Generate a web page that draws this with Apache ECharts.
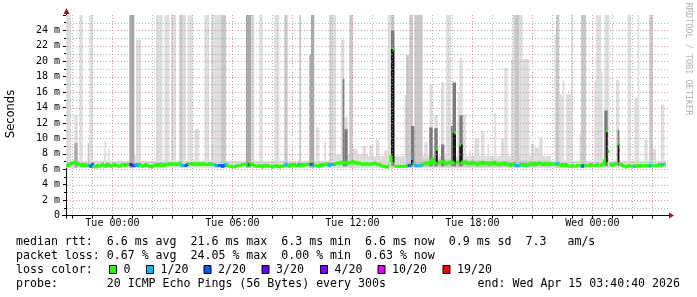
<!DOCTYPE html>
<html><head><meta charset="utf-8">
<script src="https://cdn.jsdelivr.net/npm/echarts@6/dist/echarts.min.js"></script>
<style>html,body{margin:0;padding:0;background:#fff}#c{width:697px;height:297px}</style>
</head><body><div id="c"></div>
<script>
// ---- time frame: Mon 21:40:40 .. Wed 03:40:40, hours relative to Tue 00:00, 300 s steps
const START_H = -(2 + 19/60 + 20/3600);
const STEP_H = 5/60;
const END_H = START_H + 360 * STEP_H;

const xLabelHours = [0, 6, 12, 18, 24];
const xLabelTexts = ['Tue 00:00', 'Tue 06:00', 'Tue 12:00', 'Tue 18:00', 'Wed 00:00'];
const gridHours = [-2,-1,0,1,2,3,4,5,6,7,8,9,10,11,12,13,14,15,16,17,18,19,20,21,22,23,24,25,26,27];
const yGridValues = [1,2,3,4,5,6,7,8,9,10,11,12,13,14,15,16,17,18,19,20,21,22,23,24,25];

// ---- median rtt (ms) per 5-minute step
const median = [
 6.5,6.6,6.7,6.8,6.9,6.8,6.7,6.6,6.5,6.6,6.5,6.6,6.5,6.5,6.4,6.6,6.4,6.3,6.5,6.4,
 6.5,6.6,6.5,6.4,6.6,6.5,6.4,6.5,6.6,6.5,6.5,6.4,6.5,6.6,6.6,6.5,6.6,6.6,6.6,6.5,
 6.5,6.6,6.5,6.6,6.5,6.4,6.5,6.6,6.5,6.4,6.3,6.4,6.5,6.6,6.5,6.6,6.5,6.6,6.5,6.6,
 6.6,6.7,6.6,6.7,6.6,6.7,6.6,6.7,6.6,6.5,6.5,6.5,6.6,6.7,6.7,6.6,6.7,6.6,6.7,6.6,
 6.7,6.6,6.7,6.6,6.6,6.7,6.6,6.6,6.6,6.5,6.5,6.5,6.5,6.4,6.5,6.6,6.5,6.4,6.4,6.3,
 6.3,6.4,6.5,6.5,6.5,6.6,6.6,6.6,6.5,6.6,6.7,6.6,6.5,6.4,6.4,6.5,6.4,6.3,6.5,6.4,
 6.5,6.4,6.4,6.3,6.4,6.5,6.4,6.3,6.4,6.4,6.5,6.6,6.5,6.4,6.6,6.5,6.6,6.5,6.5,6.6,
 6.5,6.6,6.5,6.6,6.6,6.7,6.6,6.6,6.5,6.5,6.4,6.5,6.6,6.5,6.6,6.7,6.6,6.5,6.6,6.6,
 6.6,6.7,6.8,6.7,6.9,6.8,6.9,6.8,6.7,6.8,6.9,7.0,6.8,6.9,6.7,6.8,6.7,6.6,6.7,6.6,
 6.7,6.6,6.6,6.7,6.8,6.7,6.6,6.6,6.5,6.4,6.4,6.3,6.3,6.5,7.6,6.9,21.6,6.4,6.4,6.4,
 6.4,6.4,6.4,6.4,6.5,6.5,6.5,7.4,6.6,6.5,6.5,6.5,6.5,6.6,6.7,6.8,6.7,6.8,6.7,7.3,
 6.8,6.9,8.6,6.8,6.9,7.0,6.8,6.7,6.8,6.9,6.8,6.9,6.8,10.7,6.9,6.8,9.2,6.9,6.8,6.9,
 6.7,6.8,6.7,6.9,6.8,6.7,6.6,6.8,6.7,6.9,6.7,6.8,6.7,6.6,6.8,6.7,6.9,6.7,6.6,6.7,
 6.6,6.7,6.8,6.6,6.7,6.6,6.5,6.6,6.7,6.5,6.5,6.5,6.6,6.6,6.5,6.6,6.5,6.6,6.7,6.6,
 6.7,6.6,6.7,6.8,6.7,6.6,6.7,6.6,6.7,6.6,6.7,6.6,6.7,6.6,6.7,6.6,6.5,6.6,6.5,6.6,
 6.5,6.4,6.4,6.5,6.4,6.4,6.5,6.5,6.5,6.4,6.5,6.5,6.5,6.5,6.6,6.5,6.5,6.5,6.6,6.5,
 6.5,6.6,6.6,7.3,11.0,8.3,6.6,6.5,6.6,6.7,6.7,9.3,6.6,6.5,6.4,6.3,6.4,6.5,6.4,6.4,
 6.4,6.5,6.4,6.5,6.4,6.5,6.5,6.5,6.5,6.4,6.5,6.5,6.5,6.5,6.5,6.6,6.5,6.6,6.6,6.6
];

// ---- lost pings (of 20): [firstStep, lastStep, lost]
const lossSpans = [
 [13,13,1],[14,15,2],[38,39,3],[40,40,2],[41,43,1],[69,70,1],[71,72,2],[89,90,1],[91,94,2],[95,95,1],
 [109,109,2],[131,132,1],[139,139,1],[146,146,2],[147,147,5],[148,148,1],[157,160,1],
 [205,206,2],[207,207,1],[209,212,1],[269,271,1],[294,294,1],[309,310,2],[340,340,1],[350,350,1],[357,358,1]
];
const lossBins = [0, 1, 2, 3, 4, 10, 19];
const lossLabels = ['0', '1/20', '2/20', '3/20', '4/20', '10/20', '19/20'];
const lossColors = ['#26ff00', '#00b8ff', '#0059ff', '#5e00ff', '#7e00ff', '#dd00ff', '#ff0000'];

// ---- smoke (ping spread): [firstStep, lastStep, low ms, high ms]
const smokeLight = [
 [0,359,6.2,7.1],[0,2,6.2,26],[5,6,6.2,13.0],[8,9,6.2,26],[14,15,6.2,26],[23,23,6.2,9.7],[25,25,6.2,8.7],
 [41,42,6.2,7.8],[42,44,6.2,22.8],[54,57,6.2,26],[59,61,6.2,26],[63,65,6.2,26],[70,71,6.2,26],[73,75,6.2,26],
 [77,79,6.2,11.2],[83,85,6.2,26],[87,88,6.2,26],[89,92,6.2,26],[93,95,6.2,8.9],[111,112,6.2,26],[116,117,6.2,26],
 [125,127,6.2,26],[150,151,6.2,11.4],[155,155,6.2,9.7],[159,161,6.2,26],[160,180,6.2,7.9],[165,166,6.2,22.8],
 [167,168,6.2,12.8],[172,174,6.2,8.7],[178,179,6.2,9.0],[180,195,6.2,7.7],[182,183,6.2,9.1],[186,187,6.2,9.9],
 [191,192,6.2,8.5],[193,194,6.2,26],
 [197,290,6.2,7.7],[203,203,6.2,15.6],[215,216,6.2,9.5],[218,219,6.2,17.0],[221,222,6.2,13.0],[225,226,6.2,17.3],
 [228,230,6.2,26],[232,233,6.2,17.4],[235,235,6.2,16.0],[236,237,6.2,20.5],[238,239,6.2,13.1],[242,242,6.2,8.5],
 [245,247,6.2,10.0],[249,250,6.2,11.0],[253,253,6.2,9.3],[257,257,6.2,13.3],[261,262,6.2,10.0],[263,264,6.2,19.2],
 [267,268,6.2,20.3],[268,268,6.2,26],[272,273,6.2,26],[274,277,6.2,20.3],[279,280,6.2,9.3],[281,283,6.2,8.8],
 [284,285,6.2,10.0],[293,293,6.2,23.5],[296,297,6.2,15.8],[298,298,6.2,17.5],[300,302,6.2,15.8],[303,303,6.2,26],
 [308,308,6.2,10.6],[317,317,6.2,17.4],[318,320,6.2,26],[321,321,6.2,18.7],[323,325,6.2,26],[330,331,6.2,17.6],
 [337,338,6.2,26],[341,342,6.2,15.3],[343,343,6.2,26],[347,348,6.2,9.8],[352,353,6.2,8.7],[357,358,6.2,14.4]
];
const smokeMedium = [
 [13,13,6.2,9.4],[68,69,6.2,26],[93,95,6.2,26],[131,132,6.2,26],[140,140,6.2,26],[158,158,6.2,26],
 [170,171,6.2,26],[195,196,6.2,26],[204,205,6.2,20.8],[206,207,6.2,26],[209,213,6.2,26],[269,271,6.2,26],
 [294,295,6.2,26],[309,311,6.2,26],[350,351,6.2,26],[214,240,6.3,7.3],[240,290,6.3,7.1]
];
const smokeDark = [
 [5,6,6.2,9.4],[38,40,6.2,26],[108,110,6.2,26],[146,146,6.2,20.8],[147,148,6.2,26]
];
const smokeDense = [
 [166,166,6.4,17.7],[167,168,6.4,11.2],[195,196,6.5,24.0],[207,208,6.4,11.6],[218,219,6.4,11.4],
 [221,222,6.4,11.3],[225,226,6.4,9.2],[231,231,6.4,11.6],[232,233,6.4,17.2],[236,237,6.4,13.0],
 [323,324,6.4,13.6],[331,331,6.4,11.1]
];
const smokeCore = [
 [195,196,6.9,21.6],[222,222,6.9,8.6],[232,233,6.9,10.7],[236,237,6.9,9.2],[324,324,6.9,11.0],[331,331,6.9,9.3],[207,207,6.6,7.4]
];

const statLines = [
 'median rtt:  6.6 ms avg  21.6 ms max  6.3 ms min  6.6 ms now  0.9 ms sd  7.3   am/s',
 'packet loss: 0.67 % avg  24.05 % max  0.00 % min  0.63 % now',
 'loss color:',
 'probe:       20 ICMP Echo Pings (56 Bytes) every 300s'
];
const endText = 'end: Wed Apr 15 03:40:40 2026';

// ---------------------------------------------------------------
const tOf = i => START_H + i * STEP_H;
function lossAt(i) {
  for (const s of lossSpans) if (i >= s[0] && i <= s[1]) return s[2];
  return 0;
}
function lossColor(n) {
  for (let b = 0; b < lossBins.length; b++) if (n <= lossBins[b]) return lossColors[b];
  return lossColors[lossColors.length - 1];
}
const medianData = median.map((v, i) => [i, v, lossAt(i), i + 1 < median.length ? median[i + 1] : v]);

function smokeSeries(data, color) {
  return {
    type: 'custom', z: 1, clip: true, silent: true,
    data: data,
    renderItem: (params, api) => {
      const a = api.coord([tOf(api.value(0)), api.value(3)]);
      const b = api.coord([tOf(api.value(1) + 1), api.value(2)]);
      return { type: 'rect', shape: { x: a[0], y: a[1], width: b[0] - a[0], height: b[1] - a[1] },
               style: { fill: color } };
    }
  };
}
const MONO = "'DejaVu Sans Mono', monospace";
const chart = echarts.init(document.getElementById('c'), null, { renderer: 'canvas' });

const legendGraphics = [];
const LX = 16, LY = [241.5, 255.5, 269.5, 283.5];
statLines.forEach((s, k) => legendGraphics.push({
  type: 'text', x: LX, y: LY[k],
  style: { text: s, font: '11.6px ' + MONO, fill: '#000', textVerticalAlign: 'middle' }
}));
legendGraphics.push({ type: 'text', x: 680, y: LY[3],
  style: { text: endText, font: '11.6px ' + MONO, fill: '#000', textAlign: 'right', textVerticalAlign: 'middle' } });
const boxX = [109, 146, 203.5, 261.5, 320, 377.5, 442.5];
lossLabels.forEach((lab, k) => {
  legendGraphics.push({ type: 'rect', shape: { x: boxX[k] + 0.5, y: 265.5, width: 7, height: 8 },
    style: { fill: lossColors[k], stroke: '#000', lineWidth: 1 } });
  legendGraphics.push({ type: 'text', x: boxX[k] + 14.5, y: LY[2],
    style: { text: lab, font: '11.6px ' + MONO, fill: '#000', textVerticalAlign: 'middle' } });
});

chart.setOption({
  animation: false,
  backgroundColor: '#ffffff',
  grid: { left: 66, width: 600, top: 15, bottom: 81.5 },
  xAxis: {
    type: 'value', min: START_H, max: END_H,
    axisLine: { show: true, onZero: false, lineStyle: { color: '#000', width: 1 } },
    axisTick: { show: true, customValues: gridHours, length: 3, lineStyle: { color: '#000' } },
    axisLabel: { show: true, customValues: xLabelHours, margin: 3,
      formatter: v => xLabelTexts[xLabelHours.indexOf(Math.round(v))] || '',
      fontFamily: MONO, fontSize: 10, color: '#000' },
    splitLine: { show: false }
  },
  yAxis: {
    type: 'value', min: 0, max: 26, interval: 2,
    axisLine: { show: true, onZero: false, lineStyle: { color: '#000', width: 1 } },
    axisTick: { show: true, length: 3, lineStyle: { color: '#000' } },
    minorTick: { show: true, splitNumber: 2, length: 2, lineStyle: { color: '#000' } },
    axisLabel: { margin: 6, fontFamily: MONO, fontSize: 10, color: '#000',
      formatter: v => (v === 0 ? '0' : v + ' m'), showMaxLabel: false },
    splitLine: { show: false }
  },
  graphic: [
    { type: 'text', x: 11, y: 114, rotation: Math.PI / 2,
      style: { text: 'Seconds', font: "11.5px 'DejaVu Sans', sans-serif", fill: '#000', textAlign: 'center', textVerticalAlign: 'middle' } },
    { type: 'text', x: 688, y: 59, rotation: -Math.PI / 2,
      style: { text: 'RRDTOOL / TOBI OETIKER', font: '8.5px ' + MONO, fill: '#b0b0b0', textAlign: 'center', textVerticalAlign: 'middle' } },
    { type: 'line', shape: { x1: 66.5, y1: 9, x2: 66.5, y2: 15 }, style: { stroke: '#000', lineWidth: 1 } },
    { type: 'line', shape: { x1: 66.5, y1: 215.5, x2: 66.5, y2: 218.5 }, style: { stroke: '#000', lineWidth: 1 } },
    { type: 'line', shape: { x1: 62, y1: 215.5, x2: 66, y2: 215.5 }, style: { stroke: '#000', lineWidth: 1 } },
    { type: 'line', shape: { x1: 666, y1: 215.5, x2: 671, y2: 215.5 }, style: { stroke: '#000', lineWidth: 1 } },
    { type: 'polygon', shape: { points: [[63.5, 14], [69.5, 14], [66.5, 8]] }, style: { fill: '#a01515' } },
    { type: 'polygon', shape: { points: [[669, 212.5], [669, 218.5], [674, 215.5]] }, style: { fill: '#a01515' } },
    ...legendGraphics
  ],
  series: [
    smokeSeries(smokeLight, '#dddddd'),
    smokeSeries(smokeMedium, '#c8c8c8'),
    smokeSeries(smokeDark, '#aaaaaa'),
    smokeSeries(smokeDense, '#7a7a7a'),
    smokeSeries(smokeCore, '#161616'),
    { // vertical grid
      type: 'custom', z: 2, silent: true, data: gridHours.map(h => [h]),
      renderItem: (params, api) => {
        const h = api.value(0);
        const a = api.coord([h, 26]), b = api.coord([h, 0]);
        const x = Math.round(a[0]) + 0.5;
        return { type: 'line', shape: { x1: x, y1: a[1], x2: x, y2: b[1] },
          style: { stroke: (h % 3 === 0) ? 'rgba(235,110,110,0.75)' : 'rgba(150,150,150,0.7)', lineWidth: 1, lineDash: [1, 2] } };
      }
    },
    { // horizontal grid
      type: 'custom', z: 2, silent: true, data: yGridValues.map(v => [v]),
      renderItem: (params, api) => {
        const v = api.value(0);
        const a = api.coord([START_H, v]), b = api.coord([END_H, v]);
        const y = Math.round(a[1]) + 0.5;
        return { type: 'line', shape: { x1: a[0] + 1, y1: y, x2: b[0] + 3, y2: y },
          style: { stroke: (v % 2 === 0) ? 'rgba(235,110,110,0.75)' : 'rgba(150,150,150,0.7)', lineWidth: 1, lineDash: [1, 2] } };
      }
    },
    { // median rtt coloured by loss
      type: 'custom', z: 3, silent: true, clip: true, data: medianData,
      renderItem: (params, api) => {
        const i = api.value(0), v = api.value(1), n = api.value(2), nx = api.value(3);
        const a = api.coord([tOf(i), v]), b = api.coord([tOf(i + 1), v]);
        const pts = [[a[0], a[1]], [b[0], b[1]]];
        if (Math.abs(nx - v) <= 0.8) pts.push([b[0], api.coord([tOf(i + 1), nx])[1]]);
        return { type: 'polyline', shape: { points: pts },
          style: { stroke: lossColor(n), lineWidth: 3, fill: null, lineJoin: 'miter', lineCap: 'butt' } };
      }
    }
  ]
});
</script></body></html>
